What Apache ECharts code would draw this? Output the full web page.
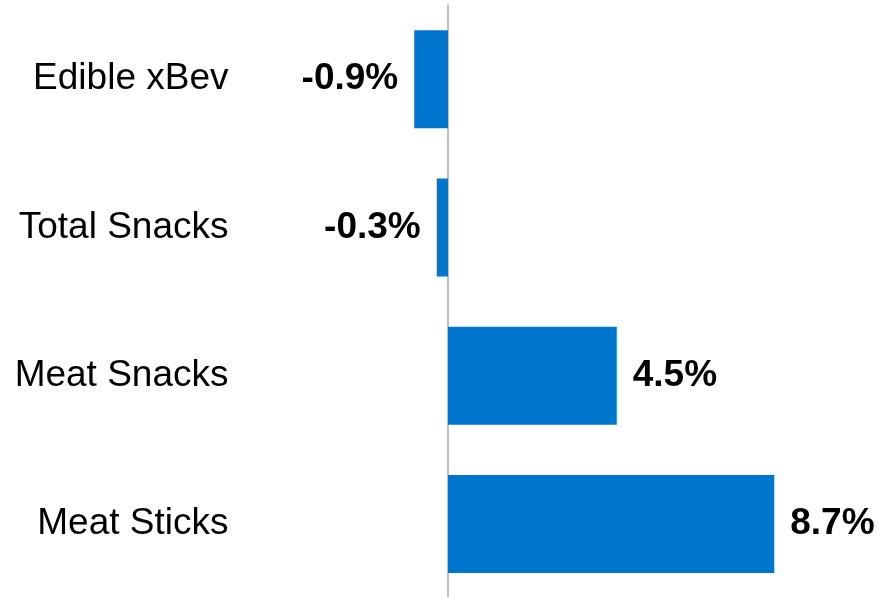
<!DOCTYPE html>
<html>
<head>
<meta charset="utf-8">
<script src="https://cdn.jsdelivr.net/npm/echarts@6/dist/echarts.min.js"></script>
<style>
html,body{margin:0;padding:0;background:#fff;}
#c{width:886px;height:597px;}
</style>
</head>
<body>
<div id="c"></div>
<script>
var categories = ['Edible xBev', 'Total Snacks', 'Meat Snacks', 'Meat Sticks'];
var values = [-0.9, -0.3, 4.5, 8.7];

var chart = echarts.init(document.getElementById('c'), null, {renderer: 'canvas'});
chart.setOption({
  animation: false,
  grid: {left: 410.5, right: 63, top: 5, bottom: -1, containLabel: false, outerBoundsMode: 'none'},
  xAxis: {
    type: 'value', min: -1, max: 10,
    axisLine: {show: false}, axisTick: {show: false},
    axisLabel: {show: false}, splitLine: {show: false}
  },
  yAxis: {
    type: 'category', data: categories, inverse: true,
    axisLine: {show: true, onZero: true, lineStyle: {color: '#aaaaaa', width: 1.5}},
    axisTick: {show: false},
    axisLabel: {
      margin: 182, color: '#000', fontSize: 37,
      fontFamily: '"Liberation Sans", Arial, sans-serif'
    }
  },
  series: [{
    type: 'bar',
    data: values.map(function (v) {
      return v < 0 ? {value: v, label: {position: 'left'}} : v;
    }),
    barWidth: 98,
    itemStyle: {color: '#0176CE'},
    label: {
      show: true, position: 'right', distance: 16,
      color: '#000', fontSize: 37, fontWeight: 'bold',
      fontFamily: '"Liberation Sans", Arial, sans-serif',
      formatter: function (p) { return p.value.toFixed(1) + '%'; }
    }
  }]
});
</script>
</body>
</html>
